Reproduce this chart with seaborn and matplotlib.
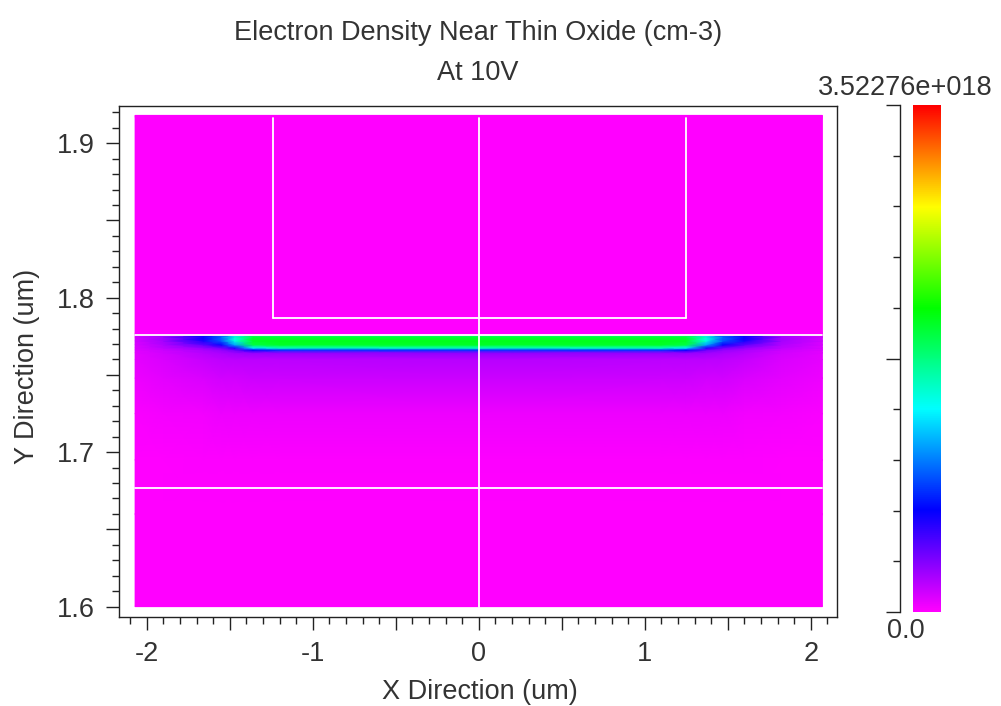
import numpy as np
import pandas as pd
import matplotlib
matplotlib.use("Agg")
import matplotlib.pyplot as plt
import seaborn as sns
from matplotlib.colors import LinearSegmentedColormap, Normalize
from matplotlib.ticker import MultipleLocator, FuncFormatter

# ---------------- text ----------------
title = "Electron Density Near Thin Oxide (cm-3)\nAt 10V"
x_label = "X Direction (um)"
y_label = "Y Direction (um)"
cbar_max_label = "3.52276e+018"
cbar_min_label = "0.0"
density_max = 3.52276  # units of 1e18 cm^-3

# ---------------- colour map ----------------
cmap_colors = ["#ff00ff", "#0000ff", "#00ffff", "#00ff00", "#ffff00", "#ff0000"]

# ---------------- mesh nodes (um) ----------------
x_nodes = [-2.07, -1.9, -1.66, -1.55, -1.47, -1.36, -1.2, 0.0,
           1.1, 1.25, 1.37, 1.47, 1.6, 1.82, 2.07]
y_nodes = [1.6, 1.66, 1.695, 1.725, 1.748, 1.76, 1.7643, 1.7662, 1.7675,
           1.7695, 1.772, 1.7745, 1.7757, 1.7759, 1.918]

# density profiles along y_nodes (1e18 cm^-3)
prof_edge     = [0, 0, 0.0, 0.02, 0.05, 0.07, 0.08, 0.09, 0.10, 0.11, 0.12, 0.12, 0.11, 0, 0]
prof_outer    = [0, 0, 0.005, 0.03, 0.08, 0.11, 0.13, 0.15, 0.18, 0.22, 0.25, 0.26, 0.24, 0, 0]
prof_blue     = [0, 0, 0.01, 0.04, 0.11, 0.16, 0.20, 0.24, 0.30, 0.45, 0.64, 0.70, 0.64, 0, 0]
prof_tip      = [0, 0, 0.01, 0.05, 0.13, 0.18, 0.24, 0.30, 0.40, 0.68, 0.95, 1.00, 0.90, 0, 0]
prof_cyan     = [0, 0, 0.01, 0.05, 0.13, 0.19, 0.27, 0.40, 0.62, 1.15, 1.48, 1.52, 1.32, 0, 0]
prof_shoulder = [0, 0, 0.01, 0.05, 0.14, 0.19, 0.30, 0.70, 1.35, 1.92, 2.02, 1.98, 1.75, 0, 0]
prof_core     = [0, 0, 0.01, 0.05, 0.14, 0.19, 0.30, 0.85, 1.60, 2.00, 2.05, 1.98, 1.75, 0, 0]
prof_centre   = [0, 0, 0.01, 0.05, 0.15, 0.20, 0.31, 0.85, 1.60, 2.00, 2.05, 1.98, 1.75, 0, 0]

columns = [prof_edge, prof_outer, prof_blue, prof_tip, prof_cyan, prof_shoulder,
           prof_core, prof_centre, prof_core, prof_shoulder, prof_cyan, prof_tip,
           prof_blue, prof_outer, prof_edge]

# ---------------- device structure boundaries (um) ----------------
seg_names = ["interface", "lower", "gate_bottom", "gate_left", "gate_right", "centre"]
seg_x = [[-2.07, 2.07], [-2.07, 2.07], [-1.24, 1.25], [-1.24, -1.24], [1.25, 1.25], [0.0, 0.0]]
seg_y = [[1.7759, 1.7759], [1.677, 1.677], [1.787, 1.787], [1.787, 1.916], [1.787, 1.916], [1.6, 1.916]]

# ---------------- figure ----------------
sns.set_theme(style="ticks")
plt.rcParams["font.family"] = ["Liberation Sans", "DejaVu Sans"]
text_col = "#333333"

fig = plt.figure(figsize=(10.01, 7.06), dpi=100)
fig.patch.set_facecolor("white")
ax = fig.add_axes([0.1189, 0.1261, 0.7176, 0.7238])
cax = fig.add_axes([0.9121, 0.1331, 0.0270, 0.7181])

cmap = LinearSegmentedColormap.from_list("tonyplot", cmap_colors, N=512)
norm = Normalize(vmin=0.0, vmax=density_max)

X, Y = np.meshgrid(np.array(x_nodes), np.array(y_nodes))
C = np.array(columns).T
ax.pcolormesh(X, Y, C, shading="gouraud", cmap=cmap, norm=norm, rasterized=True)

rows = []
for name, xs, ys in zip(seg_names, seg_x, seg_y):
    for i, (xx, yy) in enumerate(zip(xs, ys)):
        rows.append({"seg": name, "order": i, "x": xx, "y": yy})
seg_df = pd.DataFrame(rows)
sns.lineplot(data=seg_df, x="x", y="y", units="seg", estimator=None, sort=False,
             color="white", lw=1.3, ax=ax, legend=False)

ax.set_facecolor("white")
ax.set_xlim(-2.167, 2.160)
ax.set_ylim(1.5933, 1.9241)

ax.xaxis.set_major_locator(MultipleLocator(0.5))
ax.xaxis.set_minor_locator(MultipleLocator(0.1))
ax.yaxis.set_major_locator(MultipleLocator(0.05))
ax.yaxis.set_minor_locator(MultipleLocator(0.01))
ax.xaxis.set_major_formatter(FuncFormatter(
    lambda v, p: f"{int(round(v))}" if abs(v - round(v)) < 1e-6 else ""))
ax.yaxis.set_major_formatter(FuncFormatter(
    lambda v, p: f"{v:.1f}" if abs(v * 10 - round(v * 10)) < 1e-6 else ""))

ax.tick_params(axis="both", which="major", length=9.5, width=1.0, color="#222222",
               labelsize=19.5, labelcolor=text_col, direction="out", pad=8,
               top=False, right=False)
ax.tick_params(axis="both", which="minor", length=5, width=1.0, color="#222222",
               direction="out", top=False, right=False)
for sp in ax.spines.values():
    sp.set_visible(True)
    sp.set_color("#222222")
    sp.set_linewidth(1.0)

ax.set_xlabel(x_label, fontsize=19.5, color=text_col)
ax.set_ylabel(y_label, fontsize=19.5, color=text_col)
ax.xaxis.set_label_coords(0.502, -0.122)
ax.yaxis.set_label_coords(-0.110, 0.49)
ax.set_title(title, fontsize=19.5, color=text_col, linespacing=1.7, pad=19)

# ---------------- colour bar ----------------
grad = np.linspace(0, density_max, 256).reshape(-1, 1)
cax.imshow(grad, aspect="auto", origin="lower", cmap=cmap, norm=norm,
           extent=[0, 1, 0, density_max])
cax.set_xlim(0, 1)
cax.set_ylim(0, density_max)
for name in ["top", "right", "bottom"]:
    cax.spines[name].set_visible(False)
cax.spines["left"].set_position(("outward", 9.5))
cax.spines["left"].set_color("#222222")
cax.spines["left"].set_linewidth(1.0)
cax.set_xticks([])
cax.yaxis.set_major_locator(MultipleLocator(density_max / 2))
cax.yaxis.set_minor_locator(MultipleLocator(density_max / 10))
cax.yaxis.set_major_formatter(FuncFormatter(lambda v, p: ""))
cax.tick_params(axis="y", which="major", length=10, width=1.0, color="#222222", direction="out")
cax.tick_params(axis="y", which="minor", length=5, width=1.0, color="#222222", direction="out")
cax.text(-0.28, 1.008, cbar_max_label, transform=cax.transAxes, ha="center", va="bottom",
         fontsize=19.5, color=text_col)
cax.text(-0.28, -0.012, cbar_min_label, transform=cax.transAxes, ha="center", va="top",
         fontsize=19.5, color=text_col)

fig.savefig("out.png", dpi=100, facecolor="white")
